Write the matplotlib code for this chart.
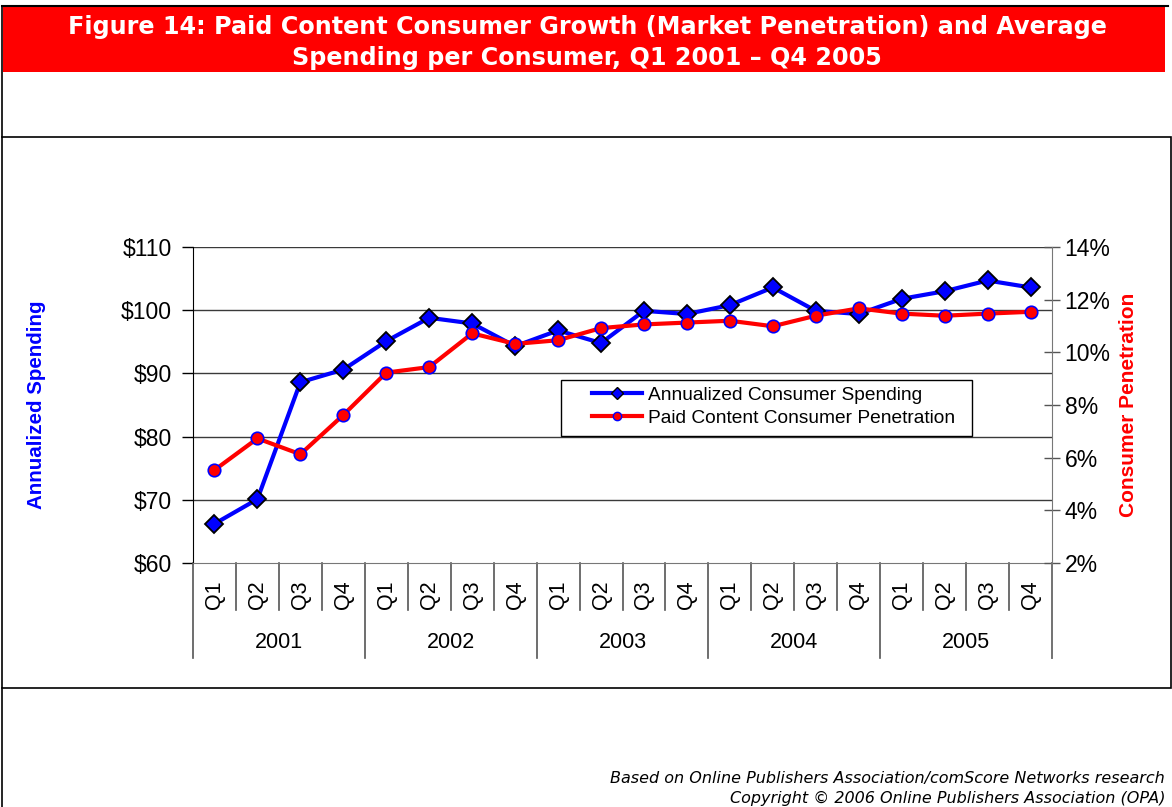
import matplotlib
matplotlib.use("Agg")
import matplotlib.pyplot as plt
import matplotlib.transforms as mtransforms
from matplotlib.patches import Rectangle
from matplotlib.lines import Line2D
from matplotlib.ticker import FuncFormatter

years = ["2001", "2002", "2003", "2004", "2005"]
quarters = ["Q1", "Q2", "Q3", "Q4"]

# annualized consumer spending, dollars
spending = [66.2, 70.1, 88.6, 90.6, 95.1, 98.8, 97.9, 94.3,
            96.8, 94.8, 99.9, 99.4, 100.8, 103.6, 99.9, 99.4,
            101.8, 103.0, 104.7, 103.6]
# paid content consumer penetration, percent
penetration = [5.53, 6.73, 6.13, 7.62, 9.23, 9.44, 10.72, 10.32,
               10.46, 10.92, 11.06, 11.13, 11.20, 10.99, 11.39, 11.67,
               11.47, 11.39, 11.47, 11.54]

W, H = 1172, 807
fig = plt.figure(figsize=(W / 100, H / 100), dpi=100)
plt.rcParams['font.family'] = ['Liberation Sans', 'DejaVu Sans']


def fx(px):
    return px / W


def fy(py):
    return 1 - py / H


# page frames
fig.add_artist(Rectangle((fx(3), fy(72)), fx(1165) - fx(3), fy(7) - fy(72),
                         transform=fig.transFigure, facecolor="#ff0000",
                         edgecolor="none"))
fig.add_artist(Line2D([fx(2), fx(1168)], [fy(6), fy(6)], color="black", lw=1.5))
fig.add_artist(Line2D([fx(2), fx(2)], [fy(6), fy(137)], color="black", lw=1.2))
fig.add_artist(Rectangle((fx(2), fy(688)), fx(1171) - fx(2), fy(137) - fy(688),
                         transform=fig.transFigure, facecolor="none",
                         edgecolor="black", lw=1.2))
fig.add_artist(Line2D([fx(2), fx(2)], [fy(688), fy(807)], color="black", lw=1.2))

fig.text(fx(587), fy(27), "Figure 14: Paid Content Consumer Growth (Market Penetration) and Average",
         ha="center", va="center", color="white", fontsize=17.2, fontweight="bold",
         family="DejaVu Sans")
fig.text(fx(587), fy(58), "Spending per Consumer, Q1 2001 \u2013 Q4 2005",
         ha="center", va="center", color="white", fontsize=17.2, fontweight="bold",
         family="DejaVu Sans")
fig.text(fx(1165), fy(779), "Based on Online Publishers Association/comScore Networks research",
         ha="right", va="center", fontsize=11.5, style="italic", family="DejaVu Sans")
fig.text(fx(1165), fy(798), "Copyright \u00a9 2006 Online Publishers Association (OPA)",
         ha="right", va="center", fontsize=11.5, style="italic", family="DejaVu Sans")

ax = fig.add_axes([fx(193), fy(563), fx(1052) - fx(193), fy(247) - fy(563)])
x = list(range(len(spending)))

ax.set_xlim(-0.5, len(x) - 0.5)
ax.set_ylim(60, 110)
ax.set_yticks([60, 70, 80, 90, 100, 110])
ax.yaxis.set_major_formatter(FuncFormatter(lambda v, p: "$%d" % v))
for v in [70, 80, 90, 100, 110]:
    ax.axhline(v, color="#3a3a3a", lw=1, zorder=0)
ax.set_xticks([])
ax.tick_params(axis="y", direction="out", length=8, width=1, labelsize=16.5, pad=7)
ax.spines["left"].set_color("black")
ax.spines["bottom"].set_color("#777777")
ax.spines["top"].set_visible(False)
ax.spines["right"].set_visible(False)

ax.plot(x, spending, color="#0000ff", lw=3, marker="D", markersize=9,
        markerfacecolor="#0000ff", markeredgecolor="black", markeredgewidth=1.3,
        zorder=3)

ax.set_ylabel("Annualized Spending", color="#0000ff", fontsize=14.8, fontweight="bold",
              labelpad=54)

# category axis: quarters and years
trans = mtransforms.blended_transform_factory(ax.transData, ax.transAxes)
for i in range(len(x) + 1):
    low = -0.30 if i % 4 == 0 else -0.149
    ax.plot([i - 0.5, i - 0.5], [0, low], color="#555555", lw=1.2,
            transform=trans, clip_on=False)
for i in x:
    ax.text(i, -0.10, quarters[i % 4], rotation=90, ha="center", va="center",
            fontsize=15.5, transform=trans)
for j, yr in enumerate(years):
    ax.text(j * 4 + 1.5, -0.25, yr, ha="center", va="center", fontsize=15.5,
            transform=trans)

ax2 = ax.twinx()
ax2.set_ylim(2, 14)
ax2.set_yticks([2, 4, 6, 8, 10, 12, 14])
ax2.yaxis.set_major_formatter(FuncFormatter(lambda v, p: "%d%%" % v))
ax2.tick_params(axis="y", direction="inout", length=12, width=1, labelsize=16.5,
                colors="#555555", labelcolor="black", pad=3)
for s in ["top", "left", "bottom"]:
    ax2.spines[s].set_visible(False)
ax2.spines["right"].set_color("#777777")
ax2.spines["right"].set_bounds(2, 14)
ax2.plot([1, 1], [0, -0.30], color="#777777", lw=1.2,
         transform=ax2.transAxes, clip_on=False)

ax2.plot(x, penetration, color="#ff0000", lw=3, marker="o", markersize=9,
         markerfacecolor="#ff0000", markeredgecolor="#0000ff", markeredgewidth=1.2,
         zorder=3)
ax2.set_ylabel("Consumer Penetration", color="#ff0000", fontsize=15, fontweight="bold",
               labelpad=6)

# legend with its own frame
ax2.add_patch(Rectangle((0.4284, 0.402), 0.4785, 0.177, transform=ax2.transAxes,
                        facecolor="white", edgecolor="black", lw=1, zorder=5))
handles = [
    Line2D([], [], color="#0000ff", lw=3, marker="D", markersize=6,
           markerfacecolor="#0000ff", markeredgecolor="black", markeredgewidth=1),
    Line2D([], [], color="#ff0000", lw=3, marker="o", markersize=6,
           markerfacecolor="#ff0000", markeredgecolor="#0000ff", markeredgewidth=1),
]
labels = ["Annualized Consumer Spending", "Paid Content Consumer Penetration"]
leg = ax2.legend(handles, labels, loc="upper left", bbox_to_anchor=(0.4645, 0.559),
                 fontsize=13.8, frameon=False, borderpad=0, labelspacing=0.3,
                 handlelength=2.6, handletextpad=0.3, borderaxespad=0)
leg.set_zorder(6)

fig.savefig("out.png", dpi=100)
